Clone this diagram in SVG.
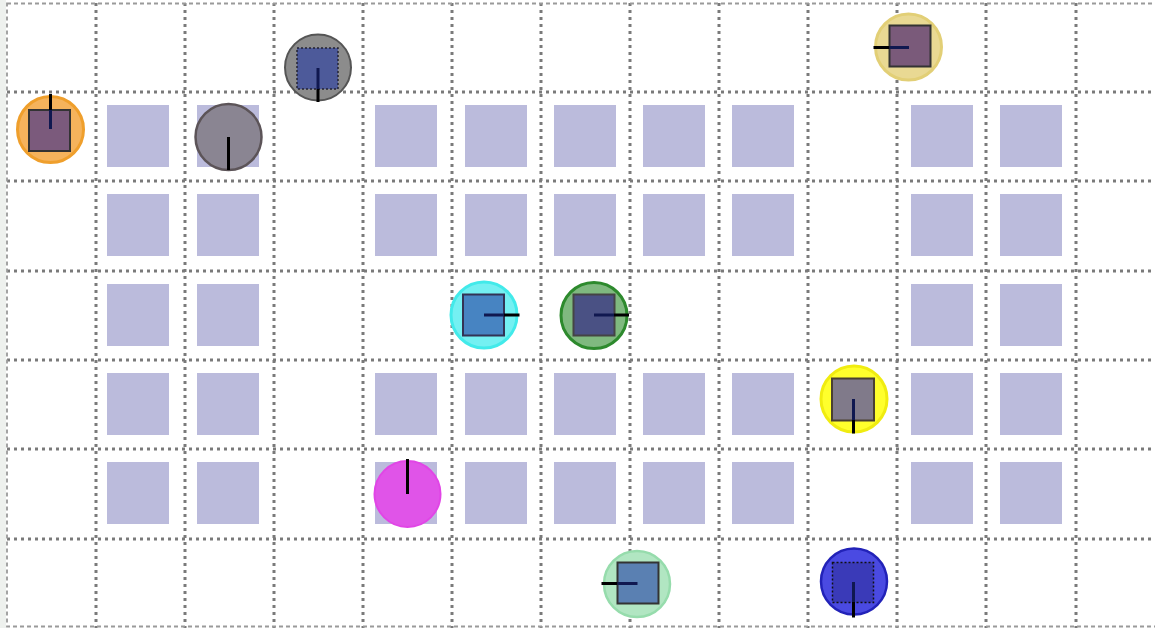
<svg xmlns="http://www.w3.org/2000/svg" width="1155" height="628" viewBox="0 0 1155 628">
<style>
.grid line{stroke:#7a7a7a;stroke-width:3;stroke-dasharray:3 4}
.frame{fill:none;stroke:#9a9a9a;stroke-width:1.8;stroke-dasharray:4 3}
.cell{fill:#bbbbdc}
.sq{stroke:#333;stroke-width:2}
.hd{stroke:#000;stroke-width:3}
</style>
<rect x="0" y="0" width="1155" height="628" fill="#eef1ee"/>
<rect x="6" y="0" width="1149" height="628" fill="#ffffff"/>
<g id="cells">
<rect class="cell" x="107" y="105" width="62" height="62"/>
<rect class="cell" x="197" y="105" width="62" height="62"/>
<rect class="cell" x="375" y="105" width="62" height="62"/>
<rect class="cell" x="465" y="105" width="62" height="62"/>
<rect class="cell" x="554" y="105" width="62" height="62"/>
<rect class="cell" x="643" y="105" width="62" height="62"/>
<rect class="cell" x="732" y="105" width="62" height="62"/>
<rect class="cell" x="911" y="105" width="62" height="62"/>
<rect class="cell" x="1000" y="105" width="62" height="62"/>
<rect class="cell" x="107" y="194" width="62" height="62"/>
<rect class="cell" x="197" y="194" width="62" height="62"/>
<rect class="cell" x="375" y="194" width="62" height="62"/>
<rect class="cell" x="465" y="194" width="62" height="62"/>
<rect class="cell" x="554" y="194" width="62" height="62"/>
<rect class="cell" x="643" y="194" width="62" height="62"/>
<rect class="cell" x="732" y="194" width="62" height="62"/>
<rect class="cell" x="911" y="194" width="62" height="62"/>
<rect class="cell" x="1000" y="194" width="62" height="62"/>
<rect class="cell" x="107" y="284" width="62" height="62"/>
<rect class="cell" x="197" y="284" width="62" height="62"/>
<rect class="cell" x="911" y="284" width="62" height="62"/>
<rect class="cell" x="1000" y="284" width="62" height="62"/>
<rect class="cell" x="107" y="373" width="62" height="62"/>
<rect class="cell" x="197" y="373" width="62" height="62"/>
<rect class="cell" x="375" y="373" width="62" height="62"/>
<rect class="cell" x="465" y="373" width="62" height="62"/>
<rect class="cell" x="554" y="373" width="62" height="62"/>
<rect class="cell" x="643" y="373" width="62" height="62"/>
<rect class="cell" x="732" y="373" width="62" height="62"/>
<rect class="cell" x="911" y="373" width="62" height="62"/>
<rect class="cell" x="1000" y="373" width="62" height="62"/>
<rect class="cell" x="107" y="462" width="62" height="62"/>
<rect class="cell" x="197" y="462" width="62" height="62"/>
<rect class="cell" x="375" y="462" width="62" height="62"/>
<rect class="cell" x="465" y="462" width="62" height="62"/>
<rect class="cell" x="554" y="462" width="62" height="62"/>
<rect class="cell" x="643" y="462" width="62" height="62"/>
<rect class="cell" x="732" y="462" width="62" height="62"/>
<rect class="cell" x="911" y="462" width="62" height="62"/>
<rect class="cell" x="1000" y="462" width="62" height="62"/>
</g>
<g class="grid">
<line x1="96" y1="3" x2="96" y2="628"/>
<line x1="185" y1="3" x2="185" y2="628"/>
<line x1="274" y1="3" x2="274" y2="628"/>
<line x1="363" y1="3" x2="363" y2="628"/>
<line x1="452" y1="3" x2="452" y2="628"/>
<line x1="541" y1="3" x2="541" y2="628"/>
<line x1="630" y1="3" x2="630" y2="628"/>
<line x1="719" y1="3" x2="719" y2="628"/>
<line x1="808" y1="3" x2="808" y2="628"/>
<line x1="897" y1="3" x2="897" y2="628"/>
<line x1="986" y1="3" x2="986" y2="628"/>
<line x1="1076" y1="3" x2="1076" y2="628"/>
<line x1="7" y1="92" x2="1155" y2="92"/>
<line x1="7" y1="181" x2="1155" y2="181"/>
<line x1="7" y1="271" x2="1155" y2="271"/>
<line x1="7" y1="360" x2="1155" y2="360"/>
<line x1="7" y1="449" x2="1155" y2="449"/>
<line x1="7" y1="539" x2="1155" y2="539"/>
</g>
<rect class="frame" x="7" y="3.5" width="1160" height="623"/>
<g id="robot-orange">
<circle cx="50.5" cy="129.5" r="33" fill="#f5b35c" stroke="#ef9f2c" stroke-width="3"/>
<rect class="sq" x="29" y="110" width="41" height="41" fill="#7b5a7c"/>
<line class="hd" x1="50.5" y1="94" x2="50.5" y2="110"/>
<line x1="50.5" y1="110" x2="50.5" y2="129" stroke="#101850" stroke-width="3"/>
</g>
<g id="robot-gray">
<circle cx="228.5" cy="137" r="33" fill="#8a8592" stroke="#5c5458" stroke-width="2.5"/>
<line class="hd" x1="228.5" y1="137" x2="228.5" y2="170"/>
</g>
<g id="robot-gray-blue">
<circle cx="318" cy="67.5" r="33" fill="#8c8c8c" stroke="#555" stroke-width="2"/>
<rect x="297" y="48" width="41" height="41" fill="#4d5a9a" stroke="#223" stroke-width="1.5" stroke-dasharray="2 2"/>
<line x1="318" y1="68" x2="318" y2="89" stroke="#101850" stroke-width="3"/>
<line class="hd" x1="318" y1="89" x2="318" y2="102"/>
</g>
<g id="robot-khaki">
<circle cx="908.5" cy="47" r="33" fill="#e9d993" stroke="#e2cf76" stroke-width="3"/>
<rect class="sq" x="889.5" y="25.5" width="41" height="41" fill="#7a5a7a"/>
<line class="hd" x1="873.5" y1="47.5" x2="889.5" y2="47.5"/>
<line x1="889.5" y1="47.5" x2="909" y2="47.5" stroke="#101850" stroke-width="3"/>
</g>
<g id="robot-cyan">
<circle cx="484" cy="315" r="33" fill="#74f0f2" stroke="#42eaea" stroke-width="3"/>
<rect x="463" y="294.5" width="41" height="41" fill="#4784c2" stroke="#335" stroke-width="2"/>
<line x1="484" y1="315" x2="504" y2="315" stroke="#101850" stroke-width="3"/>
<line class="hd" x1="504" y1="315" x2="519.5" y2="315"/>
</g>
<g id="robot-green">
<circle cx="594" cy="315.5" r="33" fill="#7fb97f" stroke="#2d8a2d" stroke-width="3"/>
<rect x="573.5" y="294.5" width="41" height="41" fill="#4a5184" stroke="#444" stroke-width="2"/>
<line x1="594" y1="315" x2="614" y2="315" stroke="#101850" stroke-width="3"/>
<line class="hd" x1="614" y1="315" x2="629" y2="315"/>
</g>
<g id="robot-yellow">
<circle cx="854" cy="399" r="33" fill="#ffff2c" stroke="#f0ec10" stroke-width="3"/>
<rect x="832" y="378.5" width="42" height="42" fill="#807a8a" stroke="#4a4030" stroke-width="2"/>
<line x1="853.5" y1="399" x2="853.5" y2="420" stroke="#101850" stroke-width="3"/>
<line class="hd" x1="853.5" y1="420" x2="853.5" y2="433.5"/>
</g>
<g id="robot-magenta">
<circle cx="407.5" cy="494" r="33" fill="#e054e8" stroke="#e145e6" stroke-width="2"/>
<line class="hd" x1="407.5" y1="459" x2="407.5" y2="494"/>
</g>
<g id="robot-lightgreen">
<circle cx="637" cy="584" r="33" fill="#b1e6c2" stroke="#96dcac" stroke-width="2.5"/>
<rect class="sq" x="617.5" y="562.5" width="41" height="41" fill="#5a80b2"/>
<line class="hd" x1="601.5" y1="583.5" x2="617.5" y2="583.5"/>
<line x1="617.5" y1="583.5" x2="637.5" y2="583.5" stroke="#101850" stroke-width="3"/>
</g>
<g id="robot-blue">
<circle cx="854" cy="581.5" r="33" fill="#4a4ae2" stroke="#2222b8" stroke-width="2.5"/>
<rect x="832.5" y="562.5" width="41" height="40" fill="#3a3ab8" stroke="#111" stroke-width="1.5" stroke-dasharray="2 2"/>
<line x1="853.5" y1="582" x2="853.5" y2="602" stroke="#101850" stroke-width="3"/>
<line class="hd" x1="853.5" y1="602" x2="853.5" y2="617.5"/>
</g>
</svg>
